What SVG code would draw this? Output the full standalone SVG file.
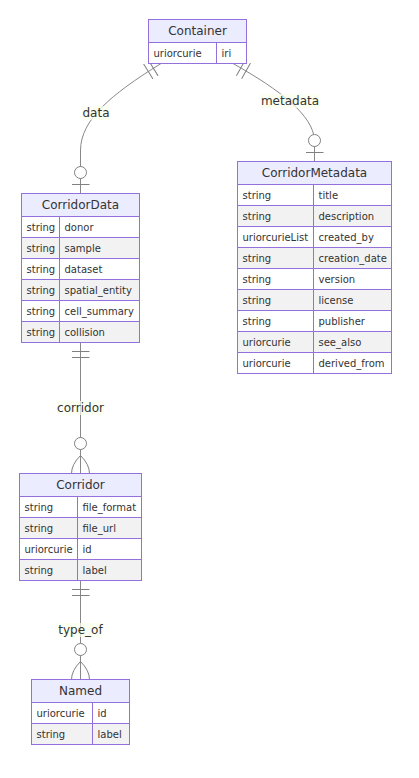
<svg xmlns="http://www.w3.org/2000/svg" width="419" height="778" viewBox="0 0 419 778">
<style>
.bg{fill:#ffffff}
.hdr{fill:#ECECFF;stroke:#9370DB;stroke-width:1}
.odd{fill:#ffffff;stroke:#9370DB;stroke-width:1}
.even{fill:#f2f2f2;stroke:#9370DB;stroke-width:1}
.t{font-family:"DejaVu Sans","Liberation Sans",sans-serif;font-size:12px;fill:#333333;dominant-baseline:central}
.ttl{text-anchor:middle}
.a{font-size:10px}
.rel{fill:none;stroke:#888888;stroke-width:1}
.mk{fill:none;stroke:#808080;stroke-width:1}
.lbl{fill:hsl(80,100%,96.27%);fill-opacity:0.7}
.lt{text-anchor:middle}
</style>
<defs>
<marker id="onlyOneStart" markerUnits="userSpaceOnUse" markerWidth="18" markerHeight="18" refX="0" refY="9" orient="auto">
<path class="mk" d="M9,0 L9,18 M15,0 L15,18"/>
</marker>
<marker id="zeroOrOneEnd" markerUnits="userSpaceOnUse" markerWidth="30" markerHeight="18" refX="30" refY="9" orient="auto">
<circle cx="9" cy="9" r="6" fill="#ffffff" stroke="#808080" stroke-width="1"/>
<path class="mk" d="M21,0 L21,18"/>
</marker>
<marker id="zeroOrMoreEnd" markerUnits="userSpaceOnUse" markerWidth="57" markerHeight="36" refX="39" refY="18" orient="auto">
<circle cx="9" cy="18" r="6" fill="#ffffff" stroke="#808080" stroke-width="1"/>
<path class="mk" d="M21,18 Q39,0 57,18 Q39,36 21,18"/>
</marker>
</defs>
<rect class="bg" x="0" y="0" width="419" height="778"/>
<g id="connectors">
<path class="rel" d="M161,63.5 C110,95 81,120 80.5,150 L80.5,193.5" marker-start="url(#onlyOneStart)" marker-end="url(#zeroOrOneEnd)"/>
<path class="rel" d="M233,63.5 C280,90 313,115 314.5,140 L314.5,161.5" marker-start="url(#onlyOneStart)" marker-end="url(#zeroOrOneEnd)"/>
<path class="rel" d="M80.5,342.5 L80.5,473.5" marker-start="url(#onlyOneStart)" marker-end="url(#zeroOrMoreEnd)"/>
<path class="rel" d="M80.5,580.5 L80.5,679.5" marker-start="url(#onlyOneStart)" marker-end="url(#zeroOrMoreEnd)"/>
<rect class="lbl" x="82.5" y="106" width="27" height="14"/>
<text class="t lt" x="96" y="113">data</text>
<rect class="lbl" x="261" y="94" width="58" height="14"/>
<text class="t lt" x="290" y="101">metadata</text>
<rect class="lbl" x="57" y="401" width="47" height="14"/>
<text class="t lt" x="80.5" y="408">corridor</text>
<rect class="lbl" x="58.3" y="623" width="44.4" height="14"/>
<text class="t lt" x="80.5" y="630">type_of</text>
</g>
<g id="Container">
<rect class="hdr" x="148.5" y="19.5" width="98" height="23"/>
<text class="t ttl" x="197.5" y="31">Container</text>
<rect class="odd" x="148.5" y="42.5" width="68" height="21"/>
<rect class="odd" x="216.5" y="42.5" width="30" height="21"/>
<text class="t a" x="153.5" y="53">uriorcurie</text>
<text class="t a" x="221.5" y="53">iri</text>
</g>
<g id="CorridorData">
<rect class="hdr" x="21.5" y="193.5" width="118" height="23"/>
<text class="t ttl" x="80.5" y="205">CorridorData</text>
<rect class="odd" x="21.5" y="216.5" width="38" height="21"/><rect class="odd" x="59.5" y="216.5" width="80" height="21"/>
<text class="t a" x="26.5" y="227">string</text><text class="t a" x="64.5" y="227">donor</text>
<rect class="even" x="21.5" y="237.5" width="38" height="21"/><rect class="even" x="59.5" y="237.5" width="80" height="21"/>
<text class="t a" x="26.5" y="248">string</text><text class="t a" x="64.5" y="248">sample</text>
<rect class="odd" x="21.5" y="258.5" width="38" height="21"/><rect class="odd" x="59.5" y="258.5" width="80" height="21"/>
<text class="t a" x="26.5" y="269">string</text><text class="t a" x="64.5" y="269">dataset</text>
<rect class="even" x="21.5" y="279.5" width="38" height="21"/><rect class="even" x="59.5" y="279.5" width="80" height="21"/>
<text class="t a" x="26.5" y="290">string</text><text class="t a" x="64.5" y="290">spatial_entity</text>
<rect class="odd" x="21.5" y="300.5" width="38" height="21"/><rect class="odd" x="59.5" y="300.5" width="80" height="21"/>
<text class="t a" x="26.5" y="311">string</text><text class="t a" x="64.5" y="311">cell_summary</text>
<rect class="even" x="21.5" y="321.5" width="38" height="21"/><rect class="even" x="59.5" y="321.5" width="80" height="21"/>
<text class="t a" x="26.5" y="332">string</text><text class="t a" x="64.5" y="332">collision</text>
</g>
<g id="CorridorMetadata">
<rect class="hdr" x="237.5" y="161.5" width="154" height="23"/>
<text class="t ttl" x="314.5" y="173">CorridorMetadata</text>
<rect class="odd" x="237.5" y="184.5" width="76" height="21"/><rect class="odd" x="313.5" y="184.5" width="78" height="21"/>
<text class="t a" x="242.5" y="195">string</text><text class="t a" x="318.5" y="195">title</text>
<rect class="even" x="237.5" y="205.5" width="76" height="21"/><rect class="even" x="313.5" y="205.5" width="78" height="21"/>
<text class="t a" x="242.5" y="216">string</text><text class="t a" x="318.5" y="216">description</text>
<rect class="odd" x="237.5" y="226.5" width="76" height="21"/><rect class="odd" x="313.5" y="226.5" width="78" height="21"/>
<text class="t a" x="242.5" y="237">uriorcurieList</text><text class="t a" x="318.5" y="237">created_by</text>
<rect class="even" x="237.5" y="247.5" width="76" height="21"/><rect class="even" x="313.5" y="247.5" width="78" height="21"/>
<text class="t a" x="242.5" y="258">string</text><text class="t a" x="318.5" y="258">creation_date</text>
<rect class="odd" x="237.5" y="268.5" width="76" height="21"/><rect class="odd" x="313.5" y="268.5" width="78" height="21"/>
<text class="t a" x="242.5" y="279">string</text><text class="t a" x="318.5" y="279">version</text>
<rect class="even" x="237.5" y="289.5" width="76" height="21"/><rect class="even" x="313.5" y="289.5" width="78" height="21"/>
<text class="t a" x="242.5" y="300">string</text><text class="t a" x="318.5" y="300">license</text>
<rect class="odd" x="237.5" y="310.5" width="76" height="21"/><rect class="odd" x="313.5" y="310.5" width="78" height="21"/>
<text class="t a" x="242.5" y="321">string</text><text class="t a" x="318.5" y="321">publisher</text>
<rect class="even" x="237.5" y="331.5" width="76" height="21"/><rect class="even" x="313.5" y="331.5" width="78" height="21"/>
<text class="t a" x="242.5" y="342">uriorcurie</text><text class="t a" x="318.5" y="342">see_also</text>
<rect class="odd" x="237.5" y="352.5" width="76" height="21"/><rect class="odd" x="313.5" y="352.5" width="78" height="21"/>
<text class="t a" x="242.5" y="363">uriorcurie</text><text class="t a" x="318.5" y="363">derived_from</text>
</g>
<g id="Corridor">
<rect class="hdr" x="19.5" y="473.5" width="122" height="23"/>
<text class="t ttl" x="80.5" y="485">Corridor</text>
<rect class="odd" x="19.5" y="496.5" width="58" height="21"/><rect class="odd" x="77.5" y="496.5" width="64" height="21"/>
<text class="t a" x="24.5" y="507">string</text><text class="t a" x="82.5" y="507">file_format</text>
<rect class="even" x="19.5" y="517.5" width="58" height="21"/><rect class="even" x="77.5" y="517.5" width="64" height="21"/>
<text class="t a" x="24.5" y="528">string</text><text class="t a" x="82.5" y="528">file_url</text>
<rect class="odd" x="19.5" y="538.5" width="58" height="21"/><rect class="odd" x="77.5" y="538.5" width="64" height="21"/>
<text class="t a" x="24.5" y="549">uriorcurie</text><text class="t a" x="82.5" y="549">id</text>
<rect class="even" x="19.5" y="559.5" width="58" height="21"/><rect class="even" x="77.5" y="559.5" width="64" height="21"/>
<text class="t a" x="24.5" y="570">string</text><text class="t a" x="82.5" y="570">label</text>
</g>
<g id="Named">
<rect class="hdr" x="31.5" y="679.5" width="98" height="23"/>
<text class="t ttl" x="80.5" y="691">Named</text>
<rect class="odd" x="31.5" y="702.5" width="61" height="21"/><rect class="odd" x="92.5" y="702.5" width="37" height="21"/>
<text class="t a" x="36.5" y="713">uriorcurie</text><text class="t a" x="97.5" y="713">id</text>
<rect class="even" x="31.5" y="723.5" width="61" height="21"/><rect class="even" x="92.5" y="723.5" width="37" height="21"/>
<text class="t a" x="36.5" y="734">string</text><text class="t a" x="97.5" y="734">label</text>
</g>
</svg>
